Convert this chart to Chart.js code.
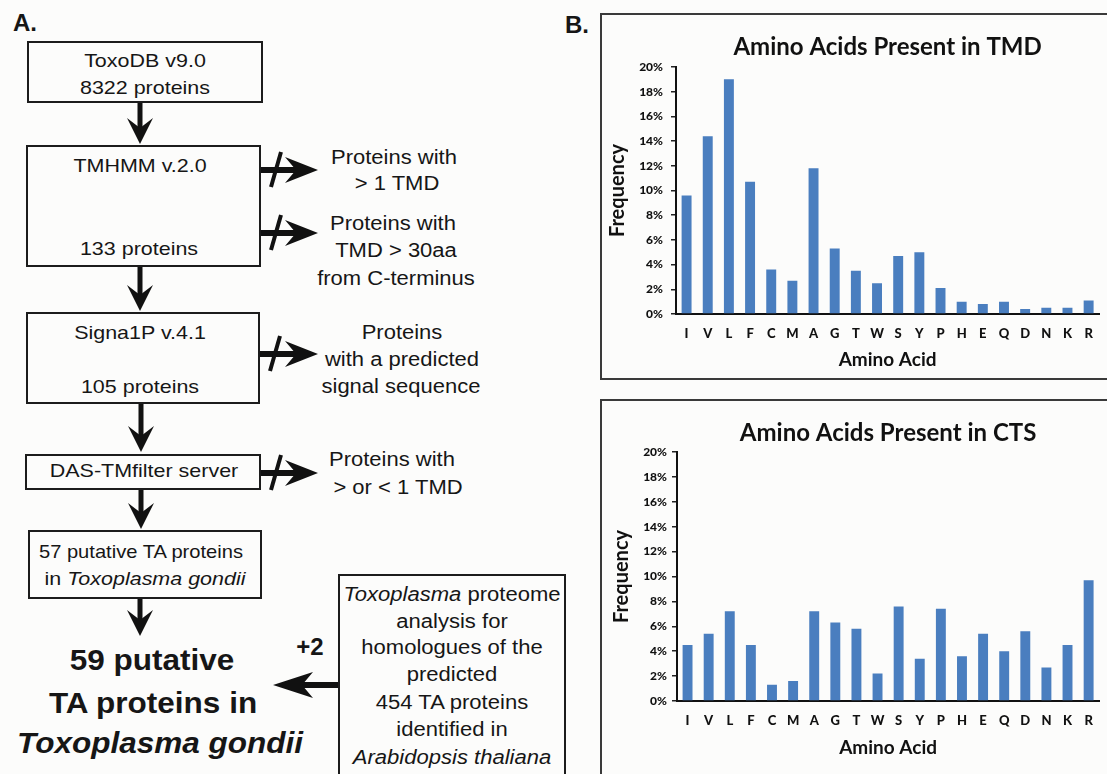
<!DOCTYPE html>
<html><head><meta charset="utf-8">
<script src="https://cdn.jsdelivr.net/npm/chart.js@4.4.1/dist/chart.umd.min.js"></script>
<style>
html,body{margin:0;padding:0;}
body{width:1107px;height:774px;overflow:hidden;background:#fcfcfb;position:relative;font-family:'Liberation Sans',Arial,sans-serif;color:#161616;}
.box{position:absolute;border:2px solid #1c1c1c;box-sizing:border-box;}
.t{position:absolute;white-space:nowrap;line-height:1;font-size:19px;transform:translate(-50%,-50%) scaleX(1.13);}
.r{font-size:20px;transform:translate(-50%,-50%) scaleX(1.1);}
.big{font-size:30px;font-weight:bold;transform:translate(-50%,-50%) scaleX(1.05);}
.lab{font-size:24px;font-weight:bold;transform:translate(-50%,-50%);}
.panel{position:absolute;border:2px solid #3a3a3a;box-sizing:border-box;pointer-events:none;}
canvas{position:absolute;}
svg{position:absolute;left:0;top:0;}
</style></head>
<body>
<script>
// ---- chart data ----
const aminoAcids = ['I','V','L','F','C','M','A','G','T','W','S','Y','P','H','E','Q','D','N','K','R'];
const tmdFrequency = [9.6,14.4,19.0,10.7,3.6,2.7,11.8,5.3,3.5,2.5,4.7,5.0,2.1,1.0,0.8,1.0,0.4,0.5,0.5,1.1];
const ctsFrequency = [4.5,5.4,7.2,4.5,1.3,1.6,7.2,6.3,5.8,2.2,7.6,3.4,7.4,3.6,5.4,4.0,5.6,2.7,4.5,9.7];
const yTickLabels = ['0%','2%','4%','6%','8%','10%','12%','14%','16%','18%','20%'];
const chartTitles = ['Amino Acids Present in TMD','Amino Acids Present in CTS'];
const xAxisTitle = 'Amino Acid';
const yAxisTitle = 'Frequency';
</script>

<!-- Panel labels -->
<div class="t lab" style="left:25px;top:23px">A.</div>
<div class="t lab" style="left:577px;top:25px">B.</div>

<!-- Flowchart boxes -->
<div class="box" style="left:27px;top:41px;width:236px;height:62px"></div>
<div class="box" style="left:26px;top:145px;width:235px;height:122px"></div>
<div class="box" style="left:26px;top:312px;width:234px;height:92px"></div>
<div class="box" style="left:25px;top:454px;width:236px;height:36px"></div>
<div class="box" style="left:28px;top:530px;width:234px;height:69px"></div>
<div class="box" style="left:338px;top:574px;width:228px;height:220px"></div>

<div class="t" style="left:145px;top:60px">ToxoDB v9.0</div>
<div class="t" style="left:145px;top:87px">8322 proteins</div>
<div class="t" style="left:140px;top:165px">TMHMM v.2.0</div>
<div class="t" style="left:139px;top:248px">133 proteins</div>
<div class="t" style="left:140px;top:332px">Signa1P v.4.1</div>
<div class="t" style="left:140px;top:386px">105 proteins</div>
<div class="t" style="left:144px;top:470px">DAS-TMfilter server</div>
<div class="t" style="left:141px;top:551px;transform:translate(-50%,-50%) scaleX(1.06)">57 putative TA proteins</div>
<div class="t" style="left:145px;top:578px">in <i>Toxoplasma gondii</i></div>

<div class="t r" style="left:394px;top:157px">Proteins with</div>
<div class="t r" style="left:397px;top:183px">&gt; 1 TMD</div>
<div class="t r" style="left:393px;top:223px">Proteins with</div>
<div class="t r" style="left:396px;top:250px">TMD &gt; 30aa</div>
<div class="t r" style="left:396px;top:278px">from C-terminus</div>
<div class="t r" style="left:402px;top:332px">Proteins</div>
<div class="t r" style="left:402px;top:359px">with a predicted</div>
<div class="t r" style="left:401px;top:386px">signal sequence</div>
<div class="t r" style="left:392px;top:459px">Proteins with</div>
<div class="t r" style="left:398px;top:487px">&gt; or &lt; 1 TMD</div>

<div class="t big" style="left:152px;top:660px">59 putative</div>
<div class="t big" style="left:153px;top:703px">TA proteins in</div>
<div class="t big" style="left:160px;top:743px"><i>Toxoplasma gondii</i></div>
<div class="t lab" style="left:310px;top:647px">+2</div>

<div class="t" style="left:452px;top:595px;font-size:19.5px"><i>Toxoplasma</i> proteome</div>
<div class="t" style="left:452px;top:622px;font-size:19.5px">analysis for</div>
<div class="t" style="left:452px;top:648px;font-size:19.5px">homologues of the</div>
<div class="t" style="left:452px;top:675px;font-size:19.5px">predicted</div>
<div class="t" style="left:452px;top:703px;font-size:19.5px">454 TA proteins</div>
<div class="t" style="left:452px;top:730px;font-size:19.5px">identified in</div>
<div class="t" style="left:452px;top:758px;font-size:19.5px"><i>Arabidopsis thaliana</i></div>

<svg id="arrows" width="1107" height="774"></svg>

<canvas id="c1" width="505" height="367" style="left:600px;top:13px"></canvas>
<canvas id="c2" width="505" height="375" style="left:600px;top:399px"></canvas>
<div class="panel" style="left:600px;top:13px;width:512px;height:367px"></div>
<div class="panel" style="left:600px;top:399px;width:512px;height:400px"></div>

<script>
// flowchart arrows (diagram decoration)
(function(){
  const svg = document.getElementById('arrows');
  let s = '';
  const C = '#111';
  function down(cx, y0, y1){
    s += `<rect x="${cx-2.5}" y="${y0}" width="5" height="${y1-y0-12}" fill="${C}"/>`;
    s += `<polygon points="${cx},${y1} ${cx-13},${y1-26} ${cx},${y1-16} ${cx+13},${y1-26}" fill="${C}"/>`;
  }
  function reject(x0, cy){
    const tip = 318;
    s += `<rect x="${x0}" y="${cy-3}" width="${tip-20-x0}" height="6" fill="${C}"/>`;
    s += `<polygon points="${tip},${cy} ${tip-33},${cy-13} ${tip-22},${cy} ${tip-33},${cy+13}" fill="${C}"/>`;
    s += `<line x1="${x0+20}" y1="${cy-18}" x2="${x0+10}" y2="${cy+17}" stroke="${C}" stroke-width="4"/>`;
  }
  down(140,103,144); down(140,267,311); down(141,404,452); down(141,490,529); down(140,599,636);
  reject(261,170); reject(261,233); reject(260,354); reject(261,473);
  s += `<rect x="300" y="682" width="38" height="6" fill="${C}"/>`;
  s += `<polygon points="273,685 313,672 302,685 313,698" fill="${C}"/>`;
  svg.innerHTML = s;
})();

function makeChart(id, title, values, g){
  const fam = 'Lato, "Open Sans", sans-serif';
  return new Chart(document.getElementById(id), {
    type: 'bar',
    data: { labels: aminoAcids, datasets: [{ data: values, backgroundColor: '#4a7ebf', borderWidth: 0,
      barPercentage: 0.47, categoryPercentage: 1.0 }] },
    options: {
      responsive: false, animation: false,
      layout: { padding: { left: 0, right: g.padRight, top: 0, bottom: 0 } },
      plugins: {
        legend: { display: false }, tooltip: { enabled: false },
        title: { display: true, text: title, fullSize: false, color: '#111',
          font: { family: fam, size: 24, weight: 'bold', lineHeight: 1.2 },
          padding: { top: g.titleTop, bottom: g.titleBottom } }
      },
      scales: {
        x: {
          grid: { display: true, drawOnChartArea: false, drawTicks: false },
          border: { display: true, color: '#111', width: 2 },
          ticks: { color: '#111', padding: 12, font: { family: fam, size: 13, weight: 900 } },
          title: { display: true, text: xAxisTitle, color: '#111',
            font: { family: fam, size: 19, weight: 'bold', lineHeight: 1.2 },
            padding: { top: 2, bottom: g.xTitleBottom } },
          afterFit: (sc) => { sc.height = g.xHeight; }
        },
        y: {
          min: 0, max: 20,
          grid: { display: true, drawOnChartArea: false, drawTicks: true, tickLength: 5, color: '#222', lineWidth: 1.5 },
          border: { display: true, color: '#111', width: 2 },
          ticks: { stepSize: 2, color: '#111', padding: g.yTickPad,
            font: { family: fam, size: 12, weight: 900 },
            callback: (v, i) => yTickLabels[i] },
          title: { display: true, text: yAxisTitle, color: '#111',
            font: { family: fam, size: 20, weight: 'bold', lineHeight: 1.2 },
            padding: { top: g.yTitleTop, bottom: 0 } },
          afterFit: (sc) => { sc.width = g.yWidth; }
        }
      }
    }
  });
}

makeChart('c1', chartTitles[0], tmdFrequency,
  { padRight: 5, titleTop: 19.6, titleBottom: 5.6, xHeight: 66, xTitleBottom: 8.6, yWidth: 76, yTickPad: 8, yTitleTop: 6 });
makeChart('c2', chartTitles[1], ctsFrequency,
  { padRight: 5, titleTop: 19.6, titleBottom: 4.6, xHeight: 73, xTitleBottom: 14.6, yWidth: 77, yTickPad: 5, yTitleTop: 10 });
</script>
</body></html>
